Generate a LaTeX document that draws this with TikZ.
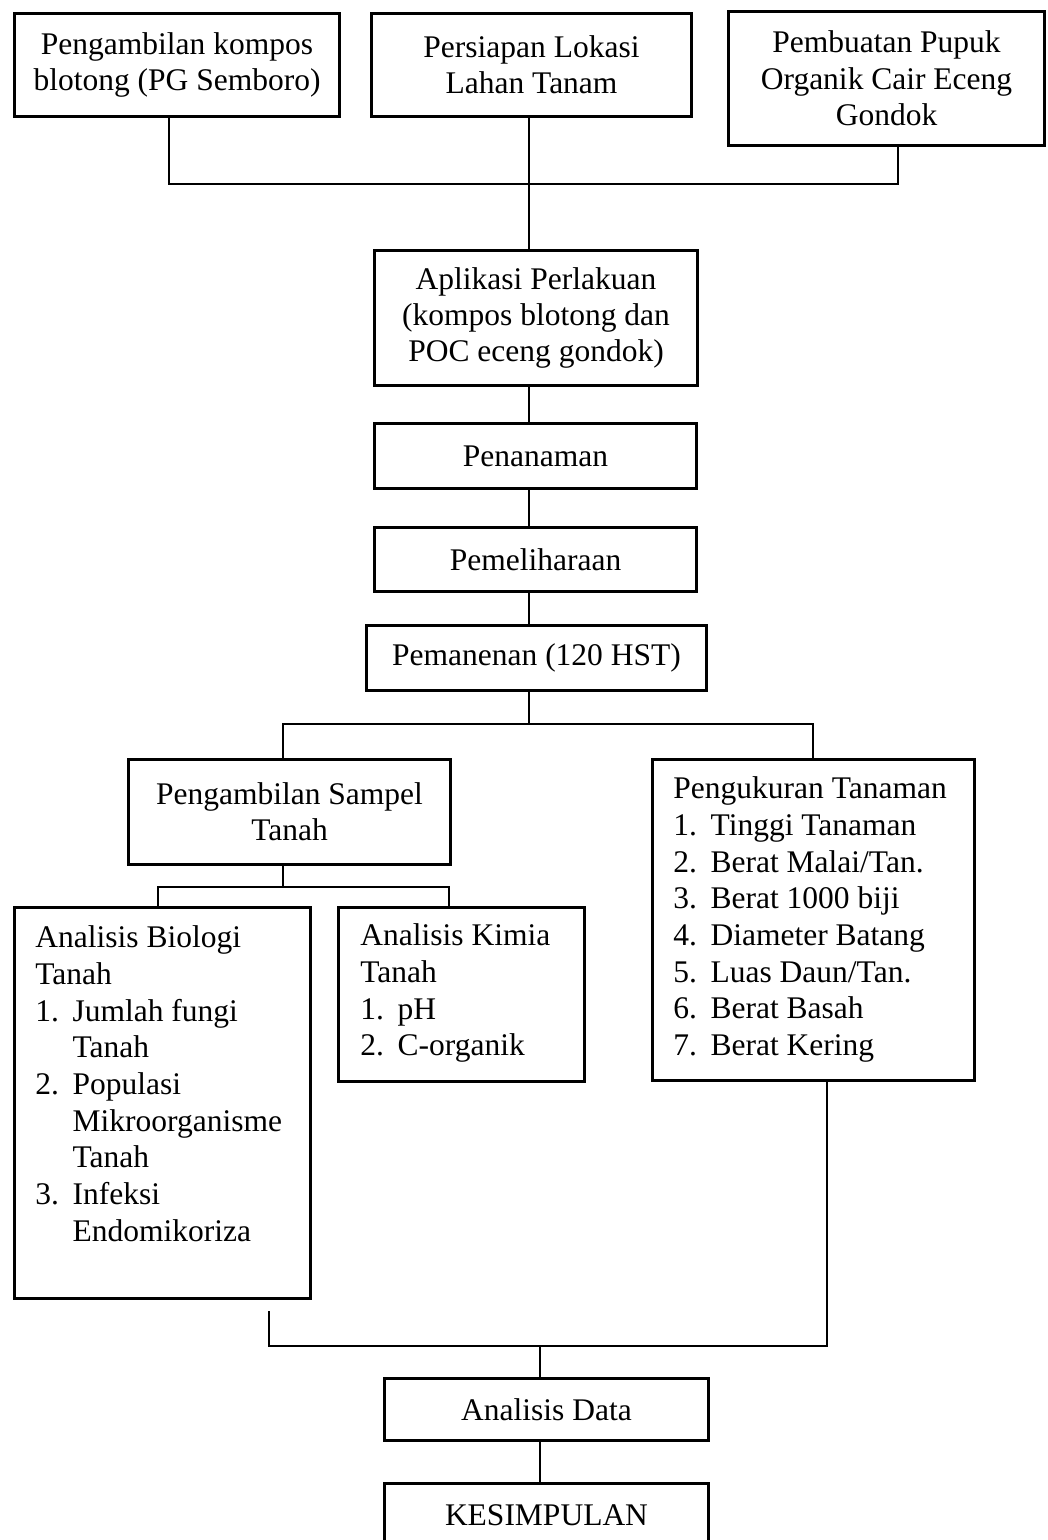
\documentclass[tikz,border=0pt]{standalone}
\usepackage{fontspec}
\setmainfont{Liberation Serif}
\newcommand{\itm}[1]{\makebox[18.6pt][l]{#1}}
\newcommand{\ind}{\hspace*{18.6pt}}
\begin{document}
\begin{tikzpicture}[x=0.5pt,y=-0.5pt,
  box/.style={draw,line width=1.5pt,inner sep=0pt,align=center,
    font=\fontsize{15.75pt}{18.2pt}\selectfont},
  frame/.style={draw,line width=1.5pt,inner sep=0pt},
  listtext/.style={inner sep=0pt,anchor=north west,align=left,
    font=\fontsize{15.75pt}{18.35pt}\selectfont},
  conn/.style={line width=0.9pt}]
\useasboundingbox (0,0) rectangle (1048,1540);
\fill[white] (0,0) rectangle (1048,1540);

% top row
\node[box,minimum width=162.5pt,minimum height=51.5pt] (A) at (177,65)
  {Pengambilan kompos\\blotong (PG Semboro)};
\node[box,minimum width=160pt,minimum height=51.5pt] (B) at (531.5,65)
  {Persiapan Lokasi\\Lahan Tanam};
\node[box,minimum width=158pt,minimum height=67pt] (C) at (886.5,78.5)
  {Pembuatan Pupuk\\Organik Cair Eceng\\Gondok};

% main chain
\node[box,minimum width=161.5pt,minimum height=67.5pt] (D) at (536,318)
  {Aplikasi Perlakuan\\(kompos blotong dan\\POC eceng gondok)};
\node[box,minimum width=161pt,minimum height=32.5pt] (pen) at (535.5,456) {Penanaman};
\node[box,minimum width=161pt,minimum height=32pt] (pem) at (535.5,559.5) {Pemeliharaan};
\node[box,minimum width=170pt,minimum height=32.5pt] (panen) at (536.5,658) {Pemanenan (120 HST)};

% second level
\node[box,minimum width=161pt,minimum height=52.5pt] (samp) at (289.5,812)
  {Pengambilan Sampel\\Tanah};
\node[frame,minimum width=161pt,minimum height=160.5pt] (ukur) at (813.5,920) {};
\node[listtext] (ukurT) at (673,776.5)
  {Pengukuran Tanaman\\
   \itm{1.}Tinggi Tanaman\\
   \itm{2.}Berat Malai/Tan.\\
   \itm{3.}Berat 1000 biji\\
   \itm{4.}Diameter Batang\\
   \itm{5.}Luas Daun/Tan.\\
   \itm{6.}Berat Basah\\
   \itm{7.}Berat Kering};

% third level
\node[frame,minimum width=148pt,minimum height=195.5pt] (bio) at (162.5,1103) {};
\node[listtext] (bioT) at (35,925.5)
  {Analisis Biologi\\
   Tanah\\
   \itm{1.}Jumlah fungi\\
   \ind Tanah\\
   \itm{2.}Populasi\\
   \ind Mikroorganisme\\
   \ind Tanah\\
   \itm{3.}Infeksi\\
   \ind Endomikoriza};
\node[frame,minimum width=123pt,minimum height=87pt] (kimia) at (461.5,994.5) {};
\node[listtext] (kimiaT) at (360,923.5)
  {Analisis Kimia\\
   Tanah\\
   \itm{1.}pH\\
   \itm{2.}C-organik};

% bottom
\node[box,minimum width=162pt,minimum height=31pt] (ad) at (546.5,1409.5) {Analisis Data};
\node[box,minimum width=162pt,minimum height=31.5pt] (kes) at (546.5,1515) {KESIMPULAN};

% junction coordinates
\coordinate (j1) at (529,184);
\coordinate (j1L) at (169,184);
\coordinate (j1R) at (898,184);
\coordinate (j2) at (529,724);
\coordinate (j2L) at (283,724);
\coordinate (j2R) at (813,724);
\coordinate (j3) at (283,887);
\coordinate (j3L) at (158,887);
\coordinate (j3R) at (449,887);
\coordinate (m) at (540,1346);
\coordinate (mL) at (269,1346);
\coordinate (mR) at (827,1346);
\coordinate (mLtop) at (269,1311);

% connectors
\draw[conn] (A.south -| j1L) -- (j1L) -- (j1R) -- (C.south -| j1R);
\draw[conn] (B.south -| j1) -- (D.north -| j1);
\draw[conn] (D.south -| j1) -- (pen.north -| j1);
\draw[conn] (pen.south -| j1) -- (pem.north -| j1);
\draw[conn] (pem.south -| j1) -- (panen.north -| j1);
\draw[conn] (panen.south -| j2) -- (j2);
\draw[conn] (samp.north -| j2L) -- (j2L) -- (j2R) -- (ukur.north -| j2R);
\draw[conn] (samp.south -| j3) -- (j3);
\draw[conn] (bio.north -| j3L) -- (j3L) -- (j3R) -- (kimia.north -| j3R);
\draw[conn] (mLtop) -- (mL) -- (mR) -- (ukur.south -| mR);
\draw[conn] (m) -- (ad.north -| m);
\draw[conn] (ad.south -| m) -- (kes.north -| m);
\end{tikzpicture}
\end{document}
